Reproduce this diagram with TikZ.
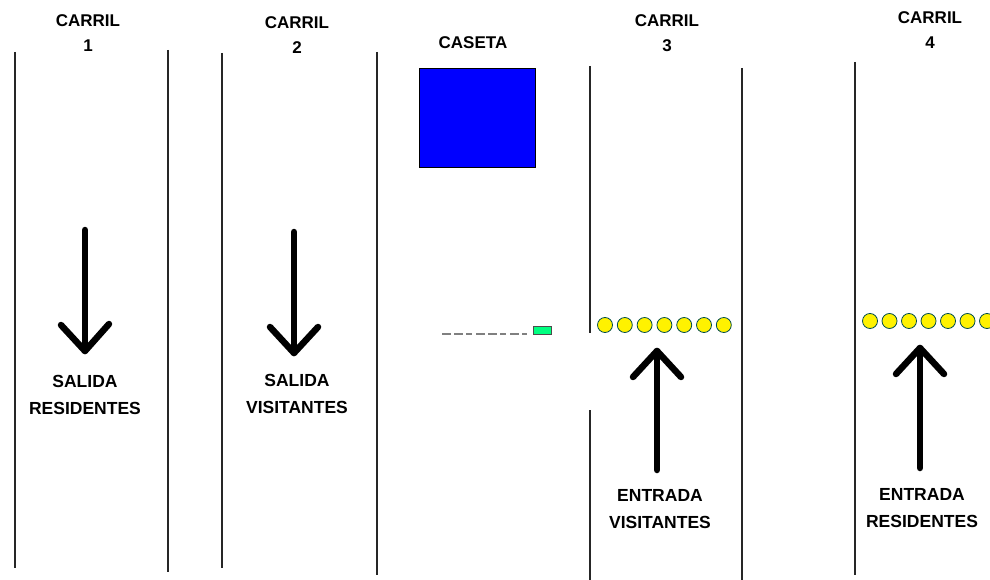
\documentclass[tikz,border=0pt]{standalone}
\usepackage{fontspec}
\setmainfont{Liberation Sans}
\definecolor{plumagreen}{RGB}{0,255,128}
\tikzset{
  lane/.style={line width=1.3pt, color=black!85},
  lanelabel/.style={font=\bfseries\fontsize{17}{25}\selectfont, align=center, inner sep=0pt},
  flowlabel/.style={font=\bfseries\fontsize{17.5}{27}\selectfont, align=center, inner sep=0pt},
  bigarrow/.style={line width=6.5pt, line cap=round, line join=round},
  dot/.style={circle, draw=teal!60!black, fill=yellow, line width=0.8pt, minimum size=15pt, inner sep=0pt}
}
\begin{document}
\begin{tikzpicture}[x=1pt,y=-1pt]
\useasboundingbox (0,0) rectangle (990,580);
% lineas de carriles
\draw[lane] (15,52) -- (15,568);
\draw[lane] (168,50) -- (168,572);
\draw[lane] (222,53) -- (222,568);
\draw[lane] (377,52) -- (377,575);
\draw[lane] (590,66) -- (590,333);
\draw[lane] (590,410) -- (590,580);
\draw[lane] (742,68) -- (742,580);
\draw[lane] (855,62) -- (855,575);
% titulos
\node[lanelabel] (c1) at (88,33) {CARRIL\\1};
\node[lanelabel] (c2) at (297,35) {CARRIL\\2};
\node[lanelabel] (caseta) at (473,43) {CASETA};
\node[lanelabel] (c3) at (667,33) {CARRIL\\3};
\node[lanelabel] (c4) at (930,30) {CARRIL\\4};
% caseta
\node[draw=black, fill=blue, line width=1pt, minimum width=116pt, minimum height=99pt, inner sep=0pt] (box) at (477,118.5) {};
% pluma
\draw[gray, line width=1.5pt, dash pattern=on 9pt off 3pt on 9pt off 3pt on 6pt off 4pt] (442,334) -- (527,334);
\node[draw=black!70, fill=plumagreen, line width=0.8pt, minimum width=18pt, minimum height=8pt, inner sep=0pt] (pluma) at (542,330.5) {};
% flechas
\coordinate (s1a) at (85,230);  \coordinate (s1b) at (85,351);
\coordinate (s2a) at (294,232); \coordinate (s2b) at (294,353);
\coordinate (e3a) at (657,470); \coordinate (e3b) at (657,351);
\coordinate (e4a) at (920,468); \coordinate (e4b) at (920,348);
\draw[bigarrow] (s1a) -- (s1b);
\draw[bigarrow] (s1b) ++(-24,-26) -- (s1b) -- ++(24,-27);
\draw[bigarrow] (s2a) -- (s2b);
\draw[bigarrow] (s2b) ++(-24,-26) -- (s2b) -- ++(24,-26);
\draw[bigarrow] (e3a) -- (e3b);
\draw[bigarrow] (e3b) ++(-24,26) -- (e3b) -- ++(24,26);
\draw[bigarrow] (e4a) -- (e4b);
\draw[bigarrow] (e4b) ++(-24,26) -- (e4b) -- ++(24,26);
% textos
\node[flowlabel] (t1) at (85,395) {SALIDA\\RESIDENTES};
\node[flowlabel] (t2) at (297,394) {SALIDA\\VISITANTES};
\node[flowlabel] (t3) at (660,509) {ENTRADA\\VISITANTES};
\node[flowlabel] (t4) at (922,508) {ENTRADA\\RESIDENTES};
% sensores
\foreach \i in {0,...,6} {
  \node[dot] (a\i) at (605+19.8*\i,325) {};
  \node[dot] (b\i) at (870+19.5*\i,321) {};
}
\end{tikzpicture}
\end{document}
